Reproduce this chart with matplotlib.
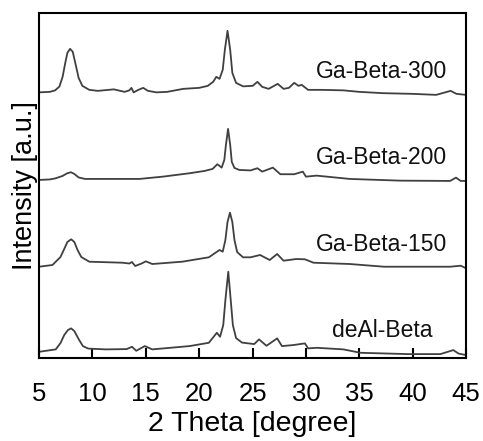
import matplotlib
matplotlib.use("Agg")
import matplotlib.pyplot as plt

plt.rcParams['font.family'] = ['Liberation Sans', 'DejaVu Sans']

# XRD patterns (2 theta, stacked intensity a.u.)
theta_300 = [5.0, 6.0, 6.5, 6.9, 7.2, 7.45, 7.65, 7.9, 8.15, 8.45, 8.7, 9.05, 9.7, 10.5, 12.0,
             13.0, 13.45, 13.65, 13.85, 14.3, 14.75, 15.2, 16.0, 17.0, 18.5, 20.0, 20.8, 21.3,
             21.6, 21.9, 22.2, 22.4, 22.65, 22.9, 23.1, 23.45, 24.1, 25.0, 25.45, 25.9, 26.5,
             27.35, 27.9, 28.4, 28.9, 29.3, 29.6, 30.2, 31.5, 33.5, 35.0, 37.2, 40.0, 42.2,
             43.55, 44.1, 45.0]
int_300 = [265.5, 266, 267.5, 271.3, 281, 295, 305, 309, 306, 292, 280, 272, 268, 267, 268.5,
           266, 267.5, 270, 265.5, 268, 270, 267, 265.5, 266, 269, 270, 272, 276,
           281, 279, 288, 308, 327, 308, 285, 275, 271.5, 272, 276, 271, 269,
           274, 269, 270, 275, 272, 273, 268, 268, 267.5, 266, 264.7, 264, 263,
           267, 264, 263]

theta_200 = [5.0, 6.0, 6.5, 7.2, 7.6, 7.97, 8.3, 8.7, 9.3, 11.25, 14.4, 16.6, 19.1, 20.5,
             21.25, 21.7, 22.1, 22.35, 22.5, 22.7, 22.9, 23.05, 23.3, 23.75, 24.8, 25.45,
             25.9, 26.9, 27.6, 28.9, 29.7, 30.0, 31.0, 34.1, 38.8, 43.5, 44.05, 44.5, 45.0]
int_200 = [178, 178.5, 179.5, 182, 184.5, 185.7, 184, 180.5, 179, 179, 179, 181.3, 184.7, 187,
           189, 193.7, 190.3, 198, 213, 229, 213, 196, 190, 188, 187.5, 189.7,
           186.3, 190.3, 183.7, 183.7, 186.3, 181.3, 182.3, 179, 177.3, 177, 180.3, 177, 177]

theta_150 = [5.0, 6.25, 7.0, 7.35, 7.65, 8.0, 8.3, 8.6, 8.95, 9.7, 12.8, 13.45, 13.7, 14.0,
             14.6, 15.0, 15.6, 18.4, 20.9, 21.9, 22.2, 22.45, 22.65, 22.88, 23.1, 23.3, 23.55,
             24.1, 24.8, 25.7, 26.6, 27.3, 27.9, 29.1, 29.9, 30.7, 34.1, 37.3, 43.5, 44.5,
             45.0]
int_150 = [91.3, 93, 101, 109, 116, 118.7, 116, 108, 101, 96.3, 95.3, 94.5, 96, 92,
           94.5, 96.7, 94, 96.3, 100.7, 108, 106.3, 118, 136, 145.3, 136, 118, 106,
           100.7, 100.7, 103, 98, 104, 97.3, 99, 98.7, 95.3, 94, 91.3, 91.3, 92.3,
           89.7]

theta_deal = [5.0, 6.56, 7.0, 7.35, 7.7, 8.0, 8.3, 8.7, 9.1, 9.6, 11.25, 13.2, 13.7, 14.1,
              14.9, 15.6, 19.1, 20.9, 21.65, 21.95, 22.25, 22.45, 22.72, 22.95, 23.15, 23.45,
              24.0, 25.15, 25.6, 26.3, 27.3, 27.75, 28.8, 29.9, 30.2, 31.0, 33.5, 35.1, 39.5,
              42.6, 43.8, 44.3, 45.0]
int_deal = [6.3, 8.7, 15, 23, 28, 29.7, 27, 19, 12, 9.5, 8.7, 9, 11.3, 7.3,
            12, 8.7, 12, 15.3, 25.3, 21.3, 33, 58, 86.3, 58, 33, 20,
            15.5, 14, 18.7, 12.3, 19.7, 12, 13, 14.7, 9.7, 10.3, 8.7, 5.3, 4,
            4, 8, 4.5, 3]

names = ['Ga-Beta-300', 'Ga-Beta-200', 'Ga-Beta-150', 'deAl-Beta']
label_x = [37.1, 37.1, 37.1, 37.1]
label_y = [286, 200, 113, 28]

fig = plt.figure(figsize=(4.83, 4.41), dpi=100)
ax = fig.add_axes([0.081, 0.188, 0.884, 0.783])

for th, inten in [(theta_300, int_300), (theta_200, int_200),
                  (theta_150, int_150), (theta_deal, int_deal)]:
    ax.plot(th, inten, color='#404040', lw=1.3)

for name, lx, ly in zip(names, label_x, label_y):
    ax.text(lx, ly, name, fontsize=16.5, ha='center', va='center', color='#111111')

ax.set_xlim(5, 45)
ax.set_ylim(0, 345)
ax.set_xticks(range(5, 46, 5))
ax.set_yticks([])
ax.tick_params(axis='x', direction='in', length=7, width=1.5, labelsize=18.5, pad=17)
for sp in ax.spines.values():
    sp.set_linewidth(1.5)

ax.set_xlabel('2 Theta [degree]', fontsize=20.5, labelpad=4)
ax.set_ylabel('Intensity [a.u.]', fontsize=19.5, labelpad=1)

fig.savefig('out.png', dpi=100)
